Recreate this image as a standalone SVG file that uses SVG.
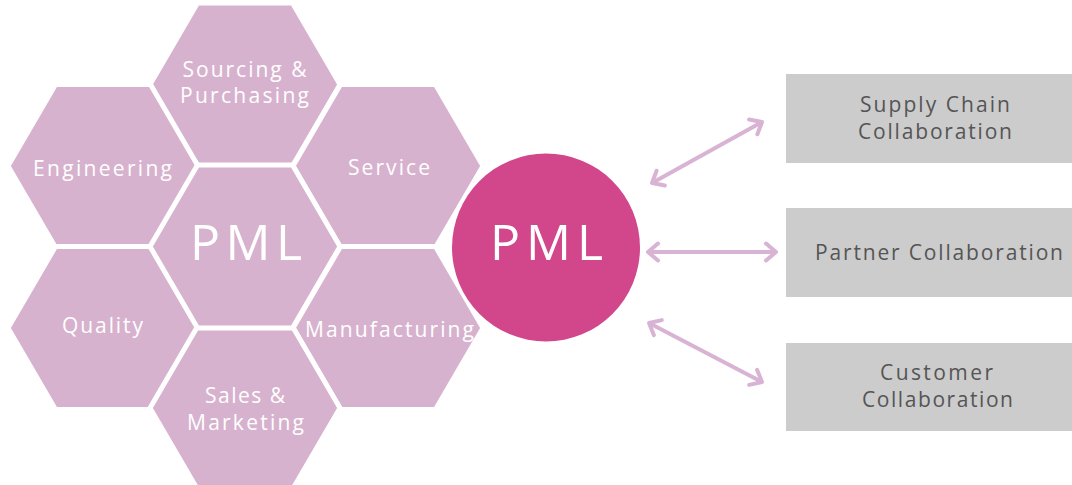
<svg xmlns="http://www.w3.org/2000/svg" xmlns:xlink="http://www.w3.org/1999/xlink" width="1072" height="485" viewBox="0 0 1072 485">
  <style>
    .hex { fill: #D7B2CE; stroke: #FFFFFF; stroke-width: 5; stroke-linejoin: miter; }
    .hl { font-family: "Open Sans", "Liberation Sans", sans-serif; font-size: 21px; fill: #FFFFFF; text-anchor: middle; }
    .big { font-family: "Open Sans", "Liberation Sans", sans-serif; font-size: 50px; fill: #FFFFFF; text-anchor: middle; }
    .box { fill: #CCCCCC; }
    .bl { font-family: "Open Sans", "Liberation Sans", sans-serif; font-size: 21px; fill: #555555; text-anchor: middle; }
    .conn { fill: none; stroke: #D9B3D3; stroke-width: 4; marker-start: url(#chev); marker-end: url(#chev); }
  </style>
  <defs>
    <polygon id="hexshape" points="-95,0 -47.5,-81.5 47.5,-81.5 95,0 47.5,81.5 -47.5,81.5"/>
    <marker id="chev" viewBox="-16 -16 32 32" markerWidth="32" markerHeight="32" refX="0" refY="0" orient="auto-start-reverse" markerUnits="userSpaceOnUse" overflow="visible">
      <path d="M-10,-8.5 L0,0 L-10,8.5" fill="none" stroke="#D9B3D3" stroke-width="4" stroke-linecap="round" stroke-linejoin="round"/>
    </marker>
  </defs>
  <rect width="1072" height="485" fill="#FFFFFF"/>

  <g id="hex-sourcing">
    <use xlink:href="#hexshape" href="#hexshape" class="hex" x="245" y="84.5"/>
    <text class="hl" x="244.5" y="77" textLength="124">Sourcing &amp;</text>
    <text class="hl" x="244.5" y="103" textLength="129">Purchasing</text>
  </g>
  <g id="hex-engineering">
    <use xlink:href="#hexshape" href="#hexshape" class="hex" x="103" y="166"/>
    <text class="hl" x="102.5" y="176" textLength="139">Engineering</text>
  </g>
  <g id="hex-service">
    <use xlink:href="#hexshape" href="#hexshape" class="hex" x="388" y="166"/>
    <text class="hl" x="389" y="175" textLength="82">Service</text>
  </g>
  <g id="hex-quality">
    <use xlink:href="#hexshape" href="#hexshape" class="hex" x="103" y="328"/>
    <text class="hl" x="102.5" y="333" textLength="81">Quality</text>
  </g>
  <g id="hex-manufacturing">
    <use xlink:href="#hexshape" href="#hexshape" class="hex" x="388" y="328"/>
    <text class="hl" x="389.5" y="337" textLength="169">Manufacturing</text>
  </g>
  <g id="hex-sales">
    <use xlink:href="#hexshape" href="#hexshape" class="hex" x="245" y="408"/>
    <text class="hl" x="245" y="403" textLength="80">Sales &amp;</text>
    <text class="hl" x="245.5" y="430" textLength="117">Marketing</text>
  </g>
  <g id="hex-pml">
    <use xlink:href="#hexshape" href="#hexshape" class="hex" x="245" y="246.5"/>
    <text class="big" x="246" y="260" textLength="112">PML</text>
  </g>

  <g id="pml-circle">
    <circle cx="546" cy="247.5" r="94" fill="#D2468B"/>
    <text class="big" x="546.5" y="260" textLength="113">PML</text>
  </g>

  <g id="connectors">
    <line class="conn" x1="652" y1="183" x2="762" y2="122"/>
    <line class="conn" x1="648" y1="252" x2="776" y2="252"/>
    <line class="conn" x1="649" y1="323" x2="762" y2="382"/>
  </g>

  <g id="box-supply">
    <rect class="box" x="786" y="74" width="286" height="89"/>
    <text class="bl" x="935" y="112" textLength="150">Supply Chain</text>
    <text class="bl" x="935" y="139" textLength="154">Collaboration</text>
  </g>
  <g id="box-partner">
    <rect class="box" x="786" y="208" width="286" height="89"/>
    <text class="bl" x="939" y="260" textLength="248">Partner Collaboration</text>
  </g>
  <g id="box-customer">
    <rect class="box" x="786" y="343" width="286" height="88"/>
    <text class="bl" x="936.5" y="380" textLength="113">Customer</text>
    <text class="bl" x="937.5" y="407" textLength="151">Collaboration</text>
  </g>
</svg>
